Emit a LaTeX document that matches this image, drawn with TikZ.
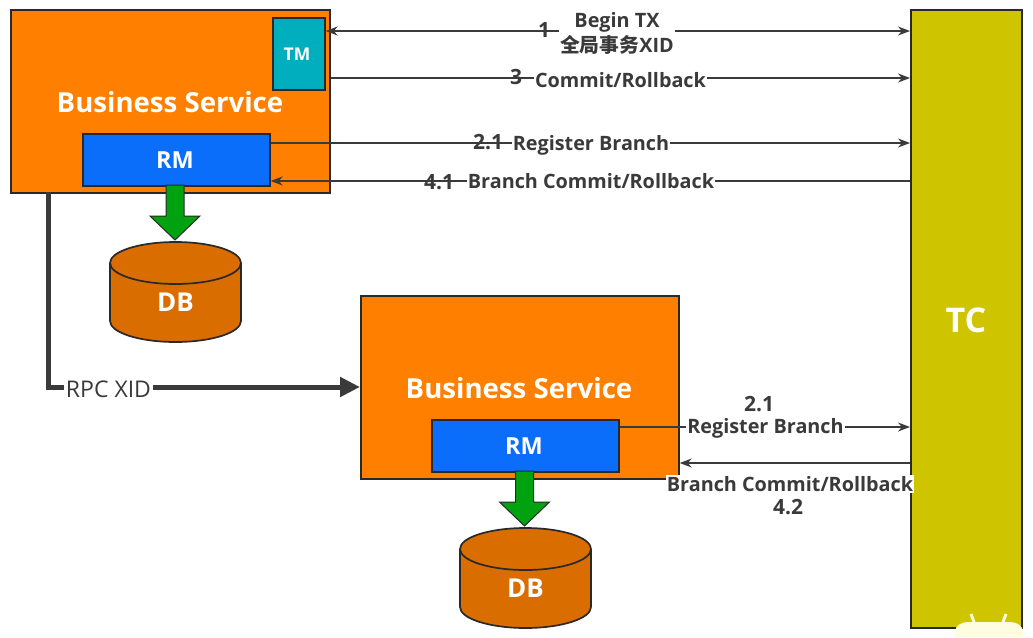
\documentclass[tikz,border=0pt]{standalone}
\usepackage{fontspec}
\setmainfont{Open Sans}
\newfontfamily\cjkf{Noto Sans CJK SC}
\usetikzlibrary{arrows.meta,calc}
\definecolor{bsorange}{HTML}{FF8000}
\definecolor{rmblue}{HTML}{0A6EFA}
\definecolor{tmteal}{HTML}{00AEBD}
\definecolor{dbfill}{HTML}{D96D00}
\definecolor{tcfill}{HTML}{CFC400}
\definecolor{arrgreen}{HTML}{00A30F}
\definecolor{ink}{HTML}{3A3A3A}
\tikzset{
  box/.style={draw=ink!70!black,line width=1.7pt,inner sep=0pt,anchor=north west},
  wtext/.style={text=white,font=\bfseries},
  conn/.style={draw=ink,line width=1.4pt,-{Stealth[length=12pt,width=9pt]}},
  lab/.style={fill=white,text=ink,font=\fontsize{19.8}{25}\selectfont\bfseries,inner sep=1pt},
  num/.style={text=ink,font=\fontsize{21}{24}\selectfont\bfseries,inner sep=0pt},
  dbside/.style={fill=dbfill,draw=ink!70!black,line width=1.7pt},
}
\newcommand{\cylinder}[3]{% name, centre x, top y
  \draw[dbside] (#2-65.5,#3+21) -- (#2-65.5,#3+79) arc[x radius=65.5,y radius=21,start angle=180,end angle=0] -- (#2+65.5,#3+21);
  \draw[dbside] (#2,#3+21) ellipse[x radius=65.5,y radius=21];
  \node[wtext,font=\fontsize{26}{30}\selectfont\bfseries] (#1) at (#2,#3+60) {DB};
}
\newcommand{\greenarrow}[2]{% from x, top y
  \draw[fill=arrgreen,draw=ink!70!black,line width=1pt]
    (#1-9,#2) -- (#1-9,#2+31) -- (#1-25,#2+31) -- (#1,#2+55) -- (#1+25,#2+31) -- (#1+9,#2+31) -- (#1+9,#2) -- cycle;
}
\begin{document}
\begin{tikzpicture}[x=1pt,y=-1pt]
\useasboundingbox (0,0) rectangle (1033,637);
% boxes
\node[box,fill=tcfill,minimum width=111pt,minimum height=618pt] (tc) at (910,9) {};
\node[wtext,font=\fontsize{34}{38}\selectfont\bfseries] (tclab) at (966,320) {TC};
\node[box,fill=bsorange,minimum width=319pt,minimum height=183pt] (bs1) at (10,9) {};
\node[wtext,font=\fontsize{27.6}{30}\selectfont\bfseries] (bs1lab) at (170,102) {Business Service};
\node[box,fill=tmteal,minimum width=52pt,minimum height=72pt] (tm) at (272,17) {};
\node[wtext,font=\fontsize{17.5}{20}\selectfont\bfseries] (tmlab) at (297,54) {TM};
\node[box,fill=rmblue,minimum width=187pt,minimum height=52pt] (rm1) at (82,133) {};
\node[wtext,font=\fontsize{23.5}{26}\selectfont\bfseries] (rm1lab) at (175,160) {RM};
\node[box,fill=bsorange,minimum width=318pt,minimum height=183pt] (bs2) at (360,295) {};
\node[wtext,font=\fontsize{27.6}{30}\selectfont\bfseries] (bs2lab) at (519,388) {Business Service};
\node[box,fill=rmblue,minimum width=187pt,minimum height=52pt] (rm2) at (431,419) {};
\node[wtext,font=\fontsize{23.5}{26}\selectfont\bfseries] (rm2lab) at (524,446) {RM};
% DB
\greenarrow{175}{185}
\cylinder{db1}{175.5}{242}
\greenarrow{524.5}{471}
\cylinder{db2}{525.5}{528}
% connector anchors
\coordinate (tm1) at (tm.east |- 0,31);
\coordinate (tc1) at (tc.west |- 0,31);
\coordinate (bs3) at (bs1.east |- 0,78);
\coordinate (tc3) at (tc.west |- 0,78);
\coordinate (rma) at (rm1.east |- 0,143);
\coordinate (tca) at (tc.west |- 0,143);
\coordinate (rmb) at (rm1.east |- 0,181);
\coordinate (tcb) at (tc.west |- 0,181);
\coordinate (rpc0) at (48,192);
\coordinate (rpc1) at (48,387);
\coordinate (bs2in) at (bs2.west |- 0,387);
\coordinate (rmc) at (rm2.east |- 0,427);
\coordinate (tcc) at (tc.west |- 0,427);
\coordinate (tcd) at (tc.west |- 0,463);
\coordinate (bs2out) at (bs2.east |- 0,463);
% connectors
\draw[conn,{Stealth[length=12pt,width=9pt]}-{Stealth[length=12pt,width=9pt]}] (tm1) -- (tc1);
\draw[conn] (bs3) -- (tc3);
\draw[conn] (rma) -- (tca);
\draw[conn] (tcb) -- (rmb);
\draw[draw=ink,line width=5pt,-{Stealth[length=20pt,width=19pt,inset=0pt]}] (rpc0) -- (rpc1) -- (bs2in);
\draw[conn] (rmc) -- (tcc);
\draw[conn] (tcd) -- (bs2out);
% labels
\node[lab,align=center] (l1) at (617,33) {Begin TX\\{\cjkf 全局事务}XID};
\node[num] (n1) at (544,30) {1};
\node[lab] (l3) at (620.5,80) {Commit/Rollback};
\node[num] (n3) at (516,77) {3};
\node[lab] (la) at (591,145.5) {Register Branch};
\node[num] (na) at (488,142) {2.1};
\node[lab] (lb) at (591,181.5) {Branch Commit/Rollback};
\node[num] (nb) at (439,182) {4.1};
\node[lab,font=\fontsize{23}{25}\selectfont,inner sep=1.5pt] (lr) at (108.5,389) {RPC XID};
\node[num] (nc) at (759,404) {2.1};
\node[lab] (lc) at (765.5,428.5) {Register Branch};
\node[lab] (ld) at (790,484) {Branch Commit/Rollback};
\node[num] (nd) at (788,507) {4.2};
% corner badge
\fill[fill=white!88!yellow] (955,637) -- (955,632) to[out=90,in=180] (968,622) -- (1010,622) to[out=0,in=90] (1023,632) -- (1023,637) -- cycle;
\draw[white!88!yellow,line width=3pt] (974,622) -- (971,614) (1003,622) -- (1006,614);
\end{tikzpicture}
\end{document}
